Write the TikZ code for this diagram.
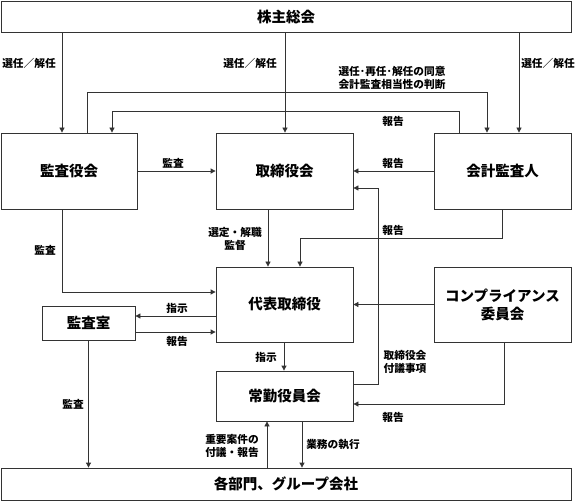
\documentclass[tikz,border=0pt]{standalone}
\usepackage{fontspec}
\setmainfont{Noto Sans CJK JP}
\usetikzlibrary{arrows.meta}

\newcommand{\bx}{\node[box]}
\newcommand{\lb}{\node[lbl]}

\tikzset{
  box/.style={draw=black!80, line width=0.8pt, inner sep=0pt, align=center,
    font=\fontsize{14.5}{18}\selectfont\bfseries},
  lbl/.style={inner sep=0pt, align=center, font=\fontsize{10.7}{12.5}\selectfont\bfseries},
  arr/.style={draw=black!80, line width=0.8pt, -{Triangle[length=5pt,width=5pt]}},
  ln/.style={draw=black!80, line width=0.8pt}
}

\begin{document}
\begin{tikzpicture}[x=1pt, y=-1pt]
  \useasboundingbox (0,0) rectangle (580,502);

  % boxes
  \bx[minimum width=570, minimum height=31] (soukai) at (286,16.5) {株主総会};
  \bx[minimum width=136, minimum height=76] (kansayaku) at (69,171) {監査役会};
  \bx[minimum width=137, minimum height=76] (torishimari) at (284.5,171) {取締役会};
  \bx[minimum width=137, minimum height=76] (kaikei) at (502.5,171) {会計監査人};
  \bx[minimum width=137, minimum height=75] (daihyo) at (284.5,304.5) {代表取締役};
  \bx[minimum width=93, minimum height=34] (kansashitsu) at (88.5,323) {監査室};
  \bx[minimum width=137, minimum height=75] (comp) at (502.5,304.5) {コンプライアンス\\委員会};
  \bx[minimum width=137, minimum height=50] (joukin) at (284.5,396) {常勤役員会};
  \bx[minimum width=570, minimum height=32] (bumon) at (286,484) {各部門、グループ会社};

  % shareholders
  \draw[arr] (soukai.south -| 62,0) -- (kansayaku.north -| 62,0);
  \draw[arr] (soukai.south -| 285,0) -- (torishimari.north -| 285,0);
  \draw[arr] (soukai.south -| 519,0) -- (kaikei.north -| 519,0);
  \lb (t1) at (29,63) {選任／解任};
  \lb (t2) at (250,63) {選任／解任};
  \lb (t3) at (548,63) {選任／解任};

  % auditors loop
  \draw[arr] (kansayaku.north -| 87,0) -- (87,92) -- (487,92) -- (kaikei.north -| 487,0);
  \lb (t4) at (392,78) {選任･再任･解任の同意\\会計監査相当性の判断};
  \draw[arr] (kaikei.north -| 459,0) -- (459,111) -- (112,111) -- (kansayaku.north -| 112,0);
  \lb (t5) at (393,121) {報告};

  \draw[arr] (kansayaku) -- (torishimari);
  \lb (t6) at (173,163) {監査};
  \draw[arr] (kaikei) -- (torishimari);
  \lb (t7) at (393,163) {報告};

  \draw[arr] (kansayaku.south -| 62,0) -- (62,292) -- (daihyo.west |- 0,292);
  \lb (t8) at (45,250) {監査};
  \draw[arr] (torishimari.south -| 268,0) -- (daihyo.north -| 268,0);
  \lb (t9) at (235,239) {選定・解職\\監督};
  \draw[arr] (kaikei.south -| 502,0) -- (502,238) -- (300,238) -- (daihyo.north -| 300,0);
  \lb (t10) at (393,230) {報告};

  \draw[arr] (joukin.east |- 0,384) -- (378,384) -- (378,188) -- (torishimari.east |- 0,188);
  \lb (t11) at (405,362) {取締役会\\付議事項};

  % internal audit
  \draw[arr] (daihyo.west |- 0,316) -- (kansashitsu.east |- 0,316);
  \lb (t12) at (177,308) {指示};
  \draw[arr] (kansashitsu.east |- 0,332) -- (daihyo.west |- 0,332);
  \lb (t13) at (177,341) {報告};

  \draw[arr] (comp) -- (daihyo);
  \draw[arr] (daihyo.south -| 284,0) -- (joukin.north -| 284,0);
  \lb (t14) at (266,357) {指示};
  \draw[arr] (comp.south -| 504,0) -- (504,404) -- (joukin.east |- 0,404);
  \lb (t15) at (393,417) {報告};

  % departments
  \draw[arr] (kansashitsu.south) -- (bumon.north -| kansashitsu.south);
  \lb (t16) at (73,404) {監査};
  \draw[arr] (bumon.north -| 267,0) -- (joukin.south -| 267,0);
  \lb (t17) at (232,446) {重要案件の\\付議・報告};
  \draw[arr] (joukin.south -| 302,0) -- (bumon.north -| 302,0);
  \lb (t18) at (333,445) {業務の執行};
\end{tikzpicture}
\end{document}
